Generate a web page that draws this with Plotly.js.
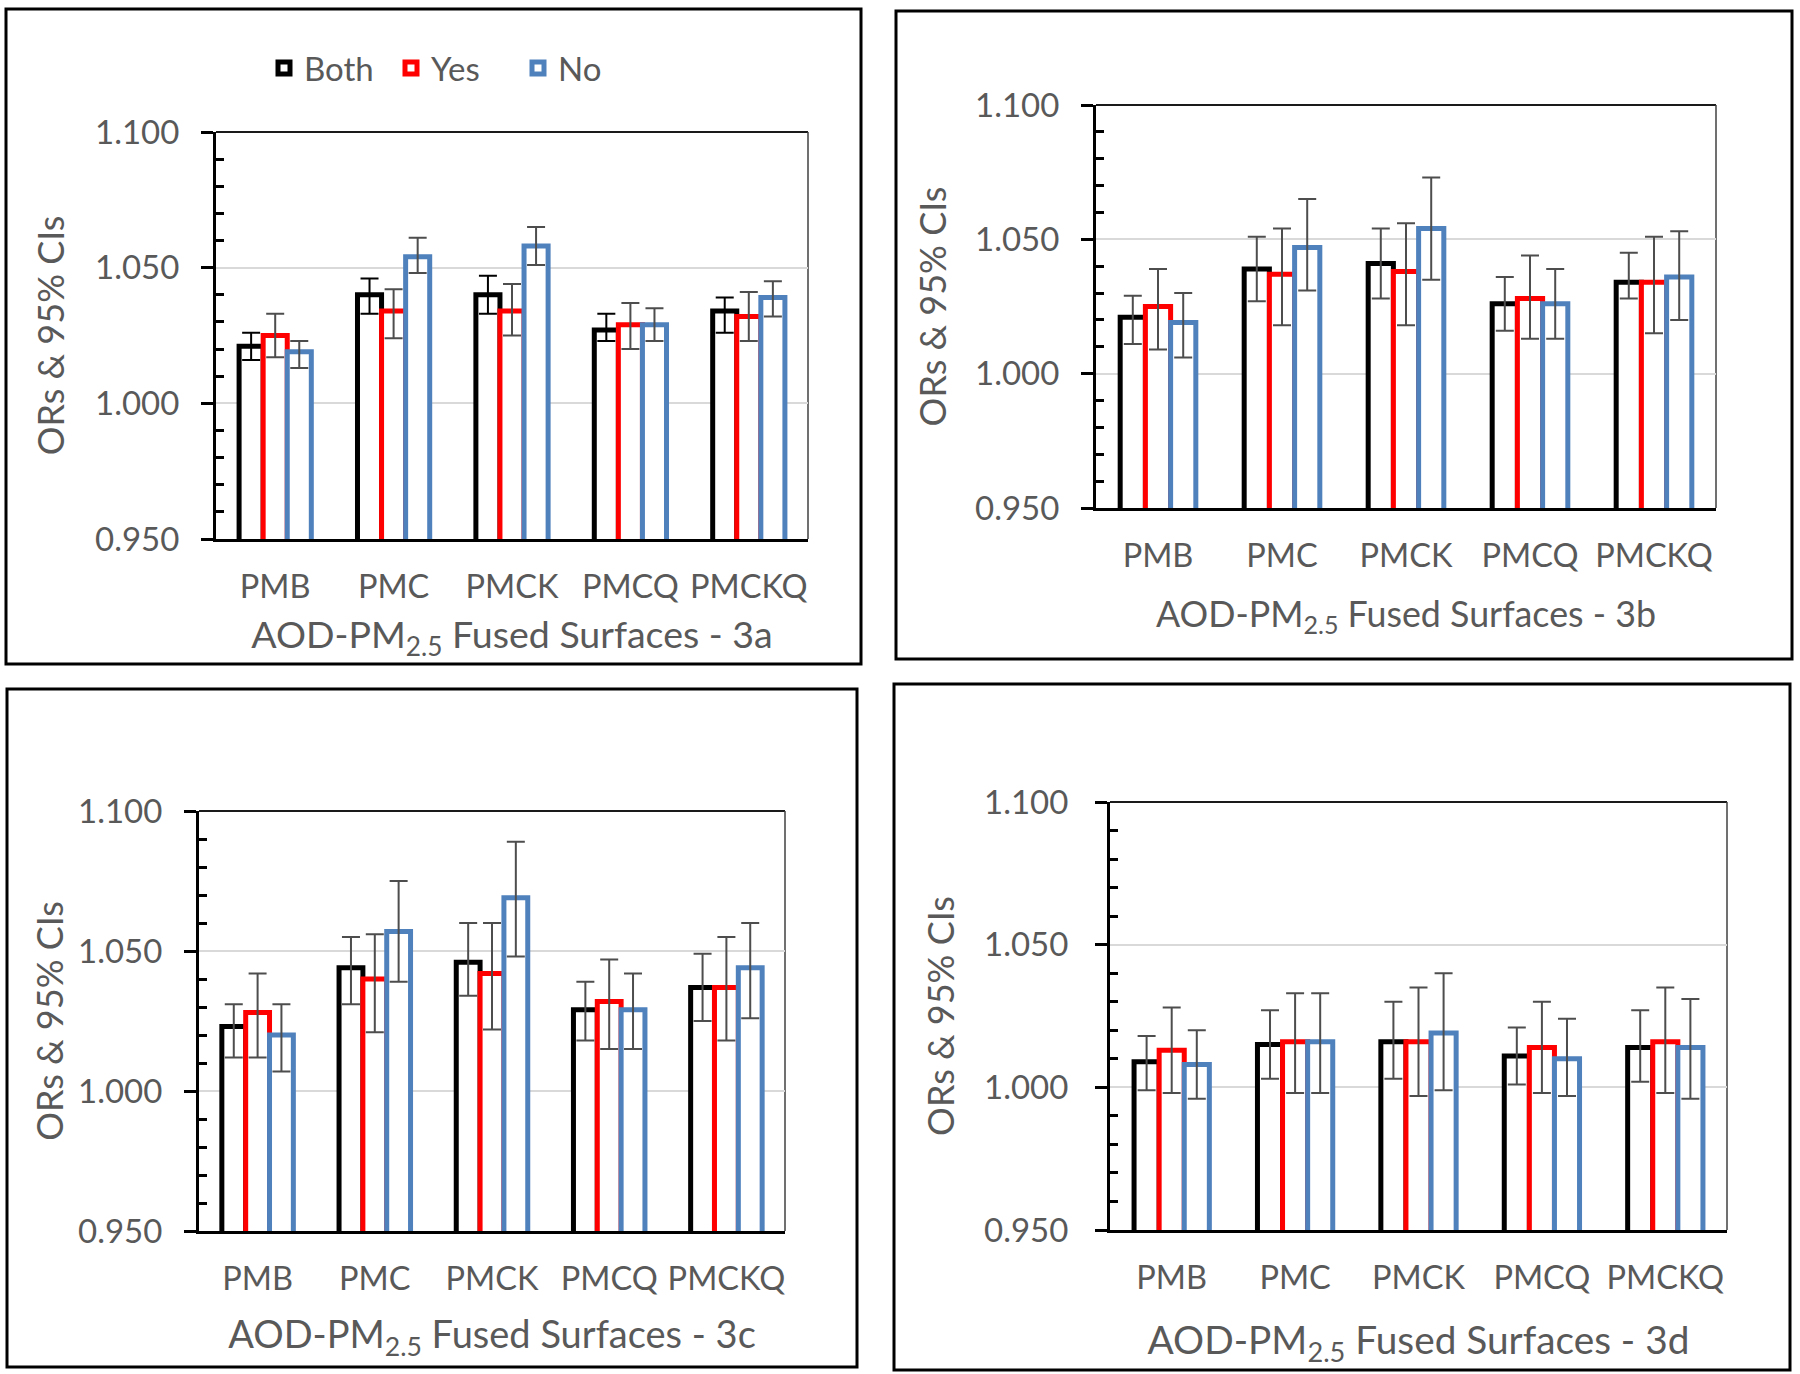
<!DOCTYPE html>
<html>
<head>
<meta charset="utf-8">
<script src="https://cdn.plot.ly/plotly-3.0.1.min.js"></script>
<style>html,body{margin:0;padding:0;background:#fff;}#chart{width:1800px;height:1374px;}</style>
</head>
<body>
<div id="chart"></div>
<script>
// ---- data ----
const categories = ['PMB', 'PMC', 'PMCK', 'PMCQ', 'PMCKQ'];
const seriesNames = ['Both', 'Yes', 'No'];
const panelTitles = ['3a', '3b', '3c', '3d'];
const yTickVals = [0.95, 1.0, 1.05, 1.1];
const yTickText = ['0.950', '1.000', '1.050', '1.100'];

// Panel 3a
const a_both_or = [1.021, 1.040, 1.040, 1.027, 1.034];
const a_both_lo = [1.016, 1.033, 1.033, 1.023, 1.026];
const a_both_hi = [1.026, 1.046, 1.047, 1.033, 1.039];
const a_yes_or  = [1.025, 1.034, 1.034, 1.029, 1.032];
const a_yes_lo  = [1.017, 1.024, 1.025, 1.020, 1.023];
const a_yes_hi  = [1.033, 1.042, 1.044, 1.037, 1.041];
const a_no_or   = [1.019, 1.054, 1.058, 1.029, 1.039];
const a_no_lo   = [1.013, 1.048, 1.051, 1.023, 1.032];
const a_no_hi   = [1.023, 1.061, 1.065, 1.035, 1.045];

// Panel 3b
const b_both_or = [1.021, 1.039, 1.041, 1.026, 1.034];
const b_both_lo = [1.011, 1.027, 1.028, 1.016, 1.028];
const b_both_hi = [1.029, 1.051, 1.054, 1.036, 1.045];
const b_yes_or  = [1.025, 1.037, 1.038, 1.028, 1.034];
const b_yes_lo  = [1.009, 1.018, 1.018, 1.013, 1.015];
const b_yes_hi  = [1.039, 1.054, 1.056, 1.044, 1.051];
const b_no_or   = [1.019, 1.047, 1.054, 1.026, 1.036];
const b_no_lo   = [1.006, 1.031, 1.035, 1.013, 1.020];
const b_no_hi   = [1.030, 1.065, 1.073, 1.039, 1.053];

// Panel 3c
const c_both_or = [1.023, 1.044, 1.046, 1.029, 1.037];
const c_both_lo = [1.012, 1.031, 1.034, 1.018, 1.025];
const c_both_hi = [1.031, 1.055, 1.060, 1.039, 1.049];
const c_yes_or  = [1.028, 1.040, 1.042, 1.032, 1.037];
const c_yes_lo  = [1.012, 1.021, 1.022, 1.015, 1.018];
const c_yes_hi  = [1.042, 1.056, 1.060, 1.047, 1.055];
const c_no_or   = [1.020, 1.057, 1.069, 1.029, 1.044];
const c_no_lo   = [1.007, 1.039, 1.048, 1.015, 1.026];
const c_no_hi   = [1.031, 1.075, 1.089, 1.042, 1.060];

// Panel 3d
const d_both_or = [1.009, 1.015, 1.016, 1.011, 1.014];
const d_both_lo = [0.999, 1.003, 1.003, 1.001, 1.002];
const d_both_hi = [1.018, 1.027, 1.030, 1.021, 1.027];
const d_yes_or  = [1.013, 1.016, 1.016, 1.014, 1.016];
const d_yes_lo  = [0.998, 0.998, 0.997, 0.998, 0.998];
const d_yes_hi  = [1.028, 1.033, 1.035, 1.030, 1.035];
const d_no_or   = [1.008, 1.016, 1.019, 1.010, 1.014];
const d_no_lo   = [0.996, 0.998, 0.999, 0.997, 0.996];
const d_no_hi   = [1.020, 1.033, 1.040, 1.024, 1.031];

// ---- assemble ----
const panels = [
  [[a_both_or, a_both_lo, a_both_hi], [a_yes_or, a_yes_lo, a_yes_hi], [a_no_or, a_no_lo, a_no_hi]],
  [[b_both_or, b_both_lo, b_both_hi], [b_yes_or, b_yes_lo, b_yes_hi], [b_no_or, b_no_lo, b_no_hi]],
  [[c_both_or, c_both_lo, c_both_hi], [c_yes_or, c_yes_lo, c_yes_hi], [c_no_or, c_no_lo, c_no_hi]],
  [[d_both_or, d_both_lo, d_both_hi], [d_yes_or, d_yes_lo, d_yes_hi], [d_no_or, d_no_lo, d_no_hi]]
];
const seriesColors = ['#000000', '#ff0000', '#4f81bd'];
const W = 1800, H = 1374;
// plot areas in pixels [x0, x1, yTop, yBottom]
const areas = [
  [216, 808, 132, 539],
  [1096, 1716, 105, 508],
  [199, 785, 811, 1231],
  [1110, 1727, 802, 1230]
];
// outer panel frames in pixels [x0, x1, yTop, yBottom]
const frames = [
  [6, 861, 9, 664],
  [896, 1792, 11, 659],
  [7, 857, 689, 1367],
  [894, 1790, 684, 1370]
];
// per-panel spacing / size tweaks
const yTitleStandoff = [20, 18, 4, 19];
const yLabelStandoff = [15, 15, 15, 20];
const xTitleStandoff = [18, 29, 26, 32];
const xTitleSize = [37.5, 35.8, 38, 38.8];

const FONT = 'Lato, "Open Sans", sans-serif';
const TXT = '#595959';
const minorVals = [];
for (let k = 96; k <= 109; k++) { if (k % 5 !== 0) minorVals.push(k / 100); }

const traces = [];
const layout = {
  width: W, height: H,
  margin: {l: 0, r: 0, t: 0, b: 0},
  paper_bgcolor: '#ffffff', plot_bgcolor: '#ffffff',
  font: {family: FONT, color: TXT},
  barmode: 'group', bargap: 0.39, bargroupgap: 0,
  showlegend: true,
  legend: {
    orientation: 'h', x: 264 / W, xanchor: 'left', y: 1 - 68 / H, yanchor: 'middle',
    font: {family: FONT, size: 33, color: TXT}, bgcolor: 'rgba(0,0,0,0)',
    traceorder: 'normal', itemwidth: 30, entrywidth: 82, entrywidthmode: 'pixels'
  },
  shapes: []
};

panels.forEach((panel, p) => {
  const n = p + 1;
  const xa = 'x' + (n === 1 ? '' : n), ya = 'y' + (n === 1 ? '' : n);
  const xk = 'xaxis' + (n === 1 ? '' : n), yk = 'yaxis' + (n === 1 ? '' : n);
  panel.forEach((s, i) => {
    const [or, lo, hi] = s;
    traces.push({
      type: 'bar', name: seriesNames[i], x: categories, y: or,
      xaxis: xa, yaxis: ya, legendgroup: seriesNames[i], showlegend: p === 0,
      marker: {color: '#ffffff', line: {color: seriesColors[i], width: 5}},
      error_y: {
        type: 'data', symmetric: false,
        array: or.map((v, j) => hi[j] - v),
        arrayminus: or.map((v, j) => v - lo[j]),
        color: (p === 0 && i === 0) ? '#000000' : '#4d4d4d',
        thickness: 2, width: 9
      },
      hoverinfo: 'x+y'
    });
  });
  const [x0, x1, yt, yb] = areas[p];
  const yDomain = [1 - yb / H, 1 - yt / H];
  layout[xk] = {
    domain: [x0 / W, x1 / W], anchor: ya,
    showline: true, linecolor: '#000000', linewidth: 3,
    ticks: '', ticklabelstandoff: 17,
    tickfont: {family: FONT, size: 32.5, color: TXT},
    showgrid: false, zeroline: false, fixedrange: true,
    title: {text: 'AOD-PM<sub>2.5</sub> Fused Surfaces - ' + panelTitles[p],
            font: {family: FONT, size: xTitleSize[p], color: TXT}, standoff: xTitleStandoff[p]}
  };
  layout[yk] = {
    domain: yDomain, anchor: xa,
    range: [0.95, 1.1], fixedrange: true,
    tickmode: 'array', tickvals: yTickVals, ticktext: yTickText,
    ticks: 'outside', ticklen: 12, tickwidth: 3, tickcolor: '#000000',
    ticklabelstandoff: yLabelStandoff[p],
    tickfont: {family: FONT, size: 33, color: TXT},
    showline: true, linecolor: '#000000', linewidth: 3,
    showgrid: true, gridcolor: '#d9d9d9', gridwidth: 2, zeroline: false,
    minor: {tickmode: 'array', tickvals: minorVals, ticks: 'inside', ticklen: 8,
            tickwidth: 3, tickcolor: '#000000', showgrid: false},
    title: {text: 'ORs &amp; 95% CIs', font: {family: FONT, size: 36, color: TXT},
            standoff: yTitleStandoff[p]}
  };
  // companion axis: inner half of the major ticks (they cross the axis line)
  layout['yaxis' + (n + 4)] = {
    domain: yDomain, anchor: xa, overlaying: ya, side: 'left',
    range: [0.95, 1.1], fixedrange: true,
    tickmode: 'array', tickvals: yTickVals, ticks: 'inside', ticklen: 9,
    tickwidth: 3, tickcolor: '#000000', showticklabels: false,
    showgrid: false, showline: false, zeroline: false
  };
  // thin top and right border of the plot area
  layout.shapes.push({type: 'line', xref: xa + ' domain', yref: ya + ' domain',
    x0: 0, x1: 1, y0: 1, y1: 1, line: {color: '#1a1a1a', width: 2}, layer: 'below'});
  layout.shapes.push({type: 'line', xref: xa + ' domain', yref: ya + ' domain',
    x0: 1, x1: 1, y0: 0, y1: 1, line: {color: '#404040', width: 1.5}, layer: 'below'});
  // outer frame of the panel
  const [f0, f1, ft, fb] = frames[p];
  layout.shapes.push({type: 'rect', xref: 'paper', yref: 'paper',
    x0: f0 / W, x1: f1 / W, y0: 1 - fb / H, y1: 1 - ft / H,
    line: {color: '#000000', width: 3}, fillcolor: 'rgba(0,0,0,0)'});
});

Plotly.newPlot('chart', traces, layout, {staticPlot: true, displayModeBar: false});
</script>
</body>
</html>
